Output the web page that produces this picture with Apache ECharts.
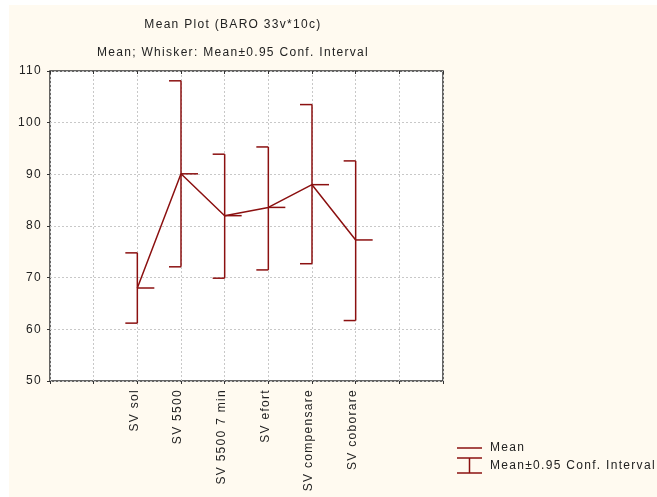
<!DOCTYPE html>
<html>
<head>
<meta charset="utf-8">
<script src="https://cdn.jsdelivr.net/npm/echarts@6/dist/echarts.min.js"></script>
<style>
html,body{margin:0;padding:0;background:#fff;}
#bg{position:absolute;left:9px;top:5px;right:0;bottom:0;background:#fffaf0;}
#chart{position:absolute;left:0;top:0;width:657px;height:497px;}
</style>
</head>
<body>
<div id="bg"></div>
<div id="chart"></div>
<script>
// ---- data ----
var categories = ['SV sol', 'SV 5500', 'SV 5500 7 min', 'SV efort', 'SV compensare', 'SV coborare'];
var means = [68.0, 90.1, 82.0, 83.6, 88.0, 77.3];
var lower = [61.2, 72.1, 69.9, 71.5, 72.7, 61.7];
var upper = [74.8, 108.1, 93.9, 95.3, 103.5, 92.6];
var yTicks = [50, 60, 70, 80, 90, 100, 110];
var slotOffset = 2;   // first category sits on the 3rd axis slot
var slotCount = 9;    // axis runs over slots 0..9
var titleText = 'Mean Plot (BARO 33v*10c)';
var subtitleText = 'Mean; Whisker: Mean\u00b10.95 Conf. Interval';
var legendNames = ['Mean', 'Mean\u00b10.95 Conf. Interval'];

var RED = '#8b1010';
var FONT = 'Liberation Sans, Arial, sans-serif';

// widen glyph spacing like the reference's text
(function () {
  var P = window.CanvasRenderingContext2D && CanvasRenderingContext2D.prototype;
  if (!P) return;
  var orig = P.fillText;
  P.fillText = function () {
    try { this.letterSpacing = '1.3px'; } catch (e) {}
    return orig.apply(this, arguments);
  };
})();

var meanData = means.map(function (m, i) { return [i + slotOffset, m]; });
var errData = means.map(function (m, i) { return [i + slotOffset, m, lower[i], upper[i]]; });

var chart = echarts.init(document.getElementById('chart'), null, {renderer: 'canvas'});

function renderErr(params, api) {
  var x = api.value(0);
  var pm = api.coord([x, api.value(1)]);
  var pl = api.coord([x, api.value(2)]);
  var pu = api.coord([x, api.value(3)]);
  var style = {stroke: RED, lineWidth: 1.5, fill: null};
  return {
    type: 'group',
    children: [
      {type: 'line', shape: {x1: pl[0], y1: pl[1], x2: pu[0], y2: pu[1]}, style: style},
      {type: 'line', shape: {x1: pu[0] - 12, y1: pu[1], x2: pu[0], y2: pu[1]}, style: style},
      {type: 'line', shape: {x1: pl[0] - 12, y1: pl[1], x2: pl[0], y2: pl[1]}, style: style},
      {type: 'line', shape: {x1: pm[0], y1: pm[1], x2: pm[0] + 17, y2: pm[1]}, style: style}
    ]
  };
}

var option = {
  animation: false,
  backgroundColor: 'transparent',
  textStyle: {fontFamily: FONT},
  grid: {
    left: 50, top: 71, width: 393, height: 310,
    show: true, backgroundColor: '#ffffff', borderColor: '#333333', borderWidth: 1.5
  },
  xAxis: [{
    type: 'value', min: 0, max: slotCount, interval: 1, position: 'bottom',
    axisLine: {show: false},
    axisTick: {show: true, inside: false, length: 3, lineStyle: {color: '#333'}},
    splitLine: {show: true, lineStyle: {color: '#c8c8c8', type: [2, 2], width: 1}},
    axisLabel: {
      rotate: 90, margin: 8, fontSize: 12, color: '#222', fontFamily: FONT,
      verticalAlign: 'bottom', lineHeight: 6,
      showMinLabel: true, showMaxLabel: true,
      formatter: function (v) { return categories[v - slotOffset] || ''; }
    }
  }, {
    type: 'value', min: 0, max: slotCount, interval: 1, position: 'top',
    axisLine: {show: false},
    axisTick: {show: true, inside: true, length: 3, lineStyle: {color: '#333'}},
    splitLine: {show: false}, axisLabel: {show: false}
  }],
  yAxis: [{
    type: 'value', min: yTicks[0], max: yTicks[yTicks.length - 1], interval: 10,
    axisLine: {show: false},
    axisTick: {show: true, inside: false, length: 2, lineStyle: {color: '#333'}},
    splitLine: {show: true, lineStyle: {color: '#c8c8c8', type: [2, 2], width: 1}},
    axisLabel: {margin: 8, fontSize: 12, color: '#222', fontFamily: FONT}
  }, {
    type: 'value', min: yTicks[0], max: yTicks[yTicks.length - 1], interval: 10, position: 'right',
    axisLine: {show: false},
    axisTick: {show: true, inside: true, length: 3, lineStyle: {color: '#333'}},
    splitLine: {show: false}, axisLabel: {show: false}
  }],
  series: [{
    name: legendNames[0], type: 'line', data: meanData,
    showSymbol: false, symbol: 'none',
    lineStyle: {color: RED, width: 1.5}, z: 3
  }, {
    name: legendNames[1], type: 'custom', data: errData,
    renderItem: renderErr, z: 4,
    encode: {x: 0, y: [1, 2, 3]}
  }],
  graphic: [
    {type: 'text', x: 233, y: 25, style: {text: titleText, font: '12px ' + FONT, fill: '#222', align: 'center', verticalAlign: 'middle'}},
    {type: 'text', x: 233, y: 53, style: {text: subtitleText, font: '12px ' + FONT, fill: '#222', align: 'center', verticalAlign: 'middle'}},
    {type: 'line', shape: {x1: 457, y1: 448, x2: 482, y2: 448}, style: {stroke: RED, lineWidth: 1.5}},
    {type: 'text', x: 490, y: 448, style: {text: legendNames[0], font: '12px ' + FONT, fill: '#222', align: 'left', verticalAlign: 'middle'}},
    {type: 'line', shape: {x1: 457, y1: 458, x2: 482, y2: 458}, style: {stroke: RED, lineWidth: 1.5}},
    {type: 'line', shape: {x1: 469.5, y1: 458, x2: 469.5, y2: 473}, style: {stroke: RED, lineWidth: 1.5}},
    {type: 'line', shape: {x1: 457, y1: 473, x2: 482, y2: 473}, style: {stroke: RED, lineWidth: 1.5}},
    {type: 'text', x: 490, y: 466, style: {text: legendNames[1], font: '12px ' + FONT, fill: '#222', align: 'left', verticalAlign: 'middle'}}
  ]
};
chart.setOption(option);
</script>
</body>
</html>
